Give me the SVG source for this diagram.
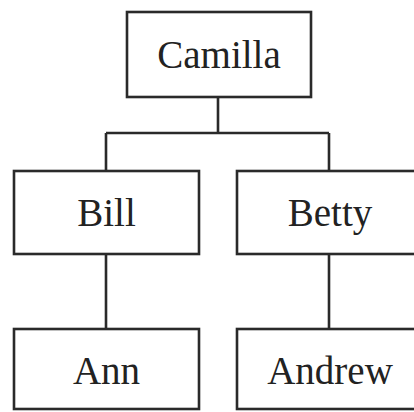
<svg xmlns="http://www.w3.org/2000/svg" width="414" height="412" viewBox="0 0 414 412">
<style>
.box{fill:#fff;stroke:#2a2a2a;stroke-width:2.6}
.lbl{font-family:"Liberation Serif","Times New Roman",serif;font-size:39px;fill:#222;text-anchor:middle}
.con{fill:none;stroke:#2a2a2a;stroke-width:2.6}
</style>
<rect width="414" height="412" fill="#fff"/>
<g id="connectors">
<path class="con" d="M218 97 V133 M106 133 H329 M106 133 V171 M329 133 V171"/>
<path class="con" d="M106 254 V329"/>
<path class="con" d="M329 254 V329"/>
</g>
<g id="camilla"><rect class="box" x="127" y="12" width="184" height="85"/><text class="lbl" x="219" y="68">Camilla</text></g>
<g id="bill"><rect class="box" x="14" y="171" width="185" height="83"/><text class="lbl" x="106.5" y="226">Bill</text></g>
<g id="betty"><rect class="box" x="237" y="171" width="186" height="83"/><text class="lbl" x="330" y="226">Betty</text></g>
<g id="ann"><rect class="box" x="14" y="329" width="185" height="80"/><text class="lbl" x="106.5" y="384">Ann</text></g>
<g id="andrew"><rect class="box" x="237" y="329" width="186" height="80"/><text class="lbl" x="330" y="384">Andrew</text></g>
</svg>
